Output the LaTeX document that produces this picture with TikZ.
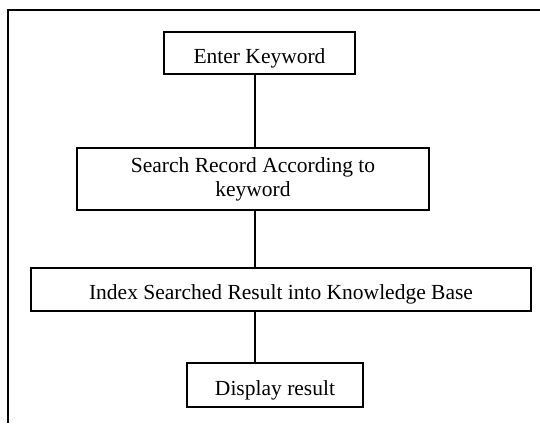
\documentclass[tikz,border=0pt]{standalone}
\usepackage{fontspec}
\setmainfont{Liberation Serif}
\begin{document}
\begin{tikzpicture}[x=1pt, y=-1pt, boxStyle/.style={draw, line width=1.5pt, inner sep=0pt, align=center, font=\fontsize{21.5}{24}\selectfont}, lineStyle/.style={boxStyle, text height=20pt, text depth=0pt}]
    \useasboundingbox (0,0) rectangle (540,423);
    \draw[line width=2pt] (540,10) -- (8,10) -- (8,423);

    \coordinate (axis) at (255,0);
    \node[lineStyle, minimum width=191pt, minimum height=42pt](key) at (259.5, 53) {Enter Keyword};
    \node[boxStyle, minimum width=352pt, minimum height=62pt](search) at (253, 179) {Search Record According to\\keyword};
    \node[lineStyle, minimum width=500pt, minimum height=43pt](index) at (281, 289.5) {Index Searched Result into Knowledge Base};
    \node[lineStyle, minimum width=176pt, minimum height=44pt](display) at (275, 385) {Display result};

    \draw[line width=1.5pt] (key.south -| axis) -- (search.north -| axis);
    \draw[line width=1.5pt] (search.south -| axis) -- (index.north -| axis);
    \draw[line width=1.5pt] (index.south -| axis) -- (display.north -| axis);
\end{tikzpicture}
\end{document}
